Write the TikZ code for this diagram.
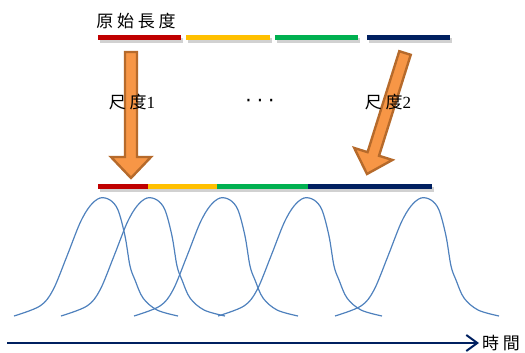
\documentclass[tikz,border=0pt]{standalone}
\usepackage{fontspec}
\newfontfamily\cjk[LetterSpace=22]{Noto Sans CJK TC}
\newfontfamily\dv{DejaVu Sans}
\usetikzlibrary{arrows.meta,calc}
\definecolor{cred}{HTML}{C00000}
\definecolor{cyellow}{HTML}{FFC000}
\definecolor{cgreen}{HTML}{00B050}
\definecolor{cnavy}{HTML}{002060}
\definecolor{corange}{HTML}{F79646}
\definecolor{corangedark}{HTML}{B66A2B}
\definecolor{cblue}{HTML}{4F81BD}
\tikzset{
  bar/.style={line width=5pt},
  barshadow/.style={line width=5pt, black, opacity=0.18},
  blockarrow/.style={fill=corange, draw=corangedark, line width=2.4pt, line join=miter},
  gauss/.style={cblue, line width=1.2pt},
  axisline/.style={cnavy, line width=2pt, -{Straight Barb[length=11pt,width=16pt,line width=2pt]}},
  lbl/.style={inner sep=0pt, font=\fontsize{17}{17}\selectfont},
}
\newcommand{\mybar}[3]{%
  \draw[barshadow] ($(#1)+(1.5,3)$) -- ($(#2)+(1.5,3)$);
  \draw[bar,#3] (#1) -- (#2);}
\newcommand{\myblockarrow}[2]{%
  \coordinate (hb) at ($(#2)!21pt!(#1)$);
  \draw[blockarrow] ($(#1)!6pt!90:(#2)$) -- ($(hb)!6pt!-90:(#1)$) -- ($(hb)!20pt!-90:(#1)$)
     -- (#2) -- ($(hb)!20pt!90:(#1)$) -- ($(hb)!6pt!90:(#1)$) -- ($(#1)!6pt!-90:(#2)$) -- cycle;}
\begin{document}
\begin{tikzpicture}[x=1pt,y=-1pt]
\useasboundingbox (0,0) rectangle (525,353);
% top bars
\coordinate (t0) at (98,38);  \coordinate (t1) at (181,38);
\coordinate (t2) at (186,38); \coordinate (t3) at (270,38);
\coordinate (t4) at (275,38); \coordinate (t5) at (358,38);
\coordinate (t6) at (367,38); \coordinate (t7) at (450,38);
\mybar{t0}{t1}{cred}
\mybar{t2}{t3}{cyellow}
\mybar{t4}{t5}{cgreen}
\mybar{t6}{t7}{cnavy}
% bottom bar
\coordinate (b0) at (98,186);  \coordinate (b1) at (148,186);
\coordinate (b2) at (217,186); \coordinate (b3) at (308,186);
\coordinate (b4) at (432,186);
\draw[barshadow] ($(b0)+(1.5,3)$) -- ($(b4)+(1.5,3)$);
\draw[bar,cred] (b0) -- (b1);
\draw[bar,cyellow] (b1) -- (b2);
\draw[bar,cgreen] (b2) -- (b3);
\draw[bar,cnavy] (b3) -- (b4);
% block arrows
\coordinate (a1s) at (131,52);  \coordinate (a1t) at (131,178);
\coordinate (a2s) at (405,53);  \coordinate (a2t) at (367,174);
\myblockarrow{a1s}{a1t}
\myblockarrow{a2s}{a2t}
% labels
\node[lbl] (orig) at (136,21) {\cjk 原始長度};
\node[lbl] (s1) at (132,102) {\cjk 尺度\fontspec{Liberation Serif}1};
\node[lbl] (s2) at (388,102) {\cjk 尺度\fontspec{Liberation Serif}2};
\node[inner sep=0pt, font=\dv\fontsize{20}{20}\selectfont] (dots) at (260,103) {·\hspace{5pt}·\hspace{5pt}·};
% gaussian curves
\foreach \px in {100,147,220,304,421}{
  \draw[gauss] plot[smooth, tension=0.55] coordinates {
    (\px-86,316) (\px-60,306) (\px-47,290) (\px-33,256) (\px-20,223) (\px-10,206)
    (\px,198) (\px+10,200) (\px+18,210) (\px+25,236) (\px+30,266) (\px+35,280)
    (\px+43,298) (\px+57,310) (\px+78,316)};
}
% time axis
\coordinate (ax0) at (7,343);
\coordinate (ax1) at (479,343);
\draw[axisline] (ax0) -- (ax1);
\node[lbl, anchor=west] (time) at (482,343) {\cjk 時間};
\end{tikzpicture}
\end{document}
